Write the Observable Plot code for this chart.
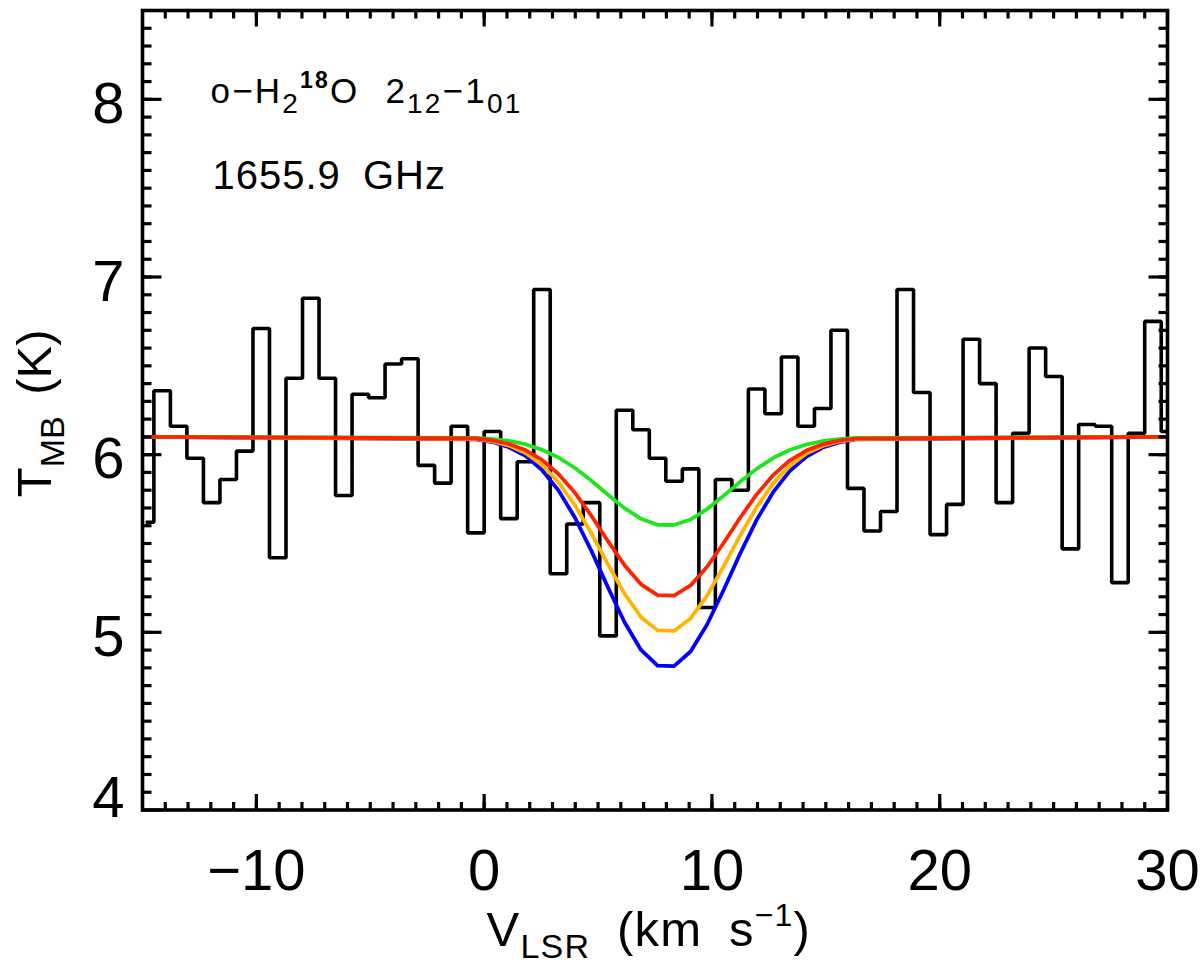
<!DOCTYPE html>
<html>
<head>
<meta charset="utf-8">
<script src="https://cdn.jsdelivr.net/npm/d3@7"></script>
<script src="https://cdn.jsdelivr.net/npm/@observablehq/plot@0.6"></script>
<style>
  html, body { margin: 0; padding: 0; background: #ffffff; }
  #chart svg { display: block; }
</style>
</head>
<body>
<div id="chart"></div>
<script>
// ---- Observed spectrum: channel centres (km/s) and main-beam temperature (K)
const velocity = [
  -14.8625, -14.1375, -13.4125, -12.6875, -11.9625, -11.2375, -10.5125, -9.7875, -9.0625, -8.3375,
  -7.6125, -6.8875, -6.1625, -5.4375, -4.7125, -3.9875, -3.2625, -2.5375, -1.8125, -1.0875,
  -0.3625, 0.3625, 1.0875, 1.8125, 2.5375, 3.2625, 3.9875, 4.7125, 5.4375, 6.1625,
  6.8875, 7.6125, 8.3375, 9.0625, 9.7875, 10.5125, 11.2375, 11.9625, 12.6875, 13.4125,
  14.1375, 14.8625, 15.5875, 16.3125, 17.0375, 17.7625, 18.4875, 19.2125, 19.9375, 20.6625,
  21.3875, 22.1125, 22.8375, 23.5625, 24.2875, 25.0125, 25.7375, 26.4625, 27.1875, 27.9125,
  28.6375, 29.3625, 30.0875
];
const tmb = [
  5.62, 6.36, 6.16, 5.98, 5.73, 5.86, 6.02, 6.71, 5.42, 6.43,
  6.88, 6.43, 5.77, 6.34, 6.32, 6.51, 6.54, 5.94, 5.84, 6.16,
  5.56, 6.13, 5.64, 5.96, 6.93, 5.33, 5.61, 5.73, 4.98, 6.25,
  6.14, 5.98, 5.85, 5.92, 5.14, 5.86, 5.80, 6.37, 6.23, 6.55,
  6.16, 6.26, 6.70, 5.81, 5.57, 5.68, 6.93, 6.35, 5.55, 5.72,
  6.65, 6.40, 5.73, 6.12, 6.60, 6.44, 5.47, 6.17, 6.16, 5.28,
  6.12, 6.75, 6.13
];

// ---- Model profiles (at the channel centres)
const modelVelocity = [
  -14.8625, -0.3625, 0.3625, 1.0875, 1.8125, 2.5375, 3.2625, 3.9875, 4.7125, 5.4375,
  6.1625, 6.8875, 7.6125, 8.3375, 9.0625, 9.7875, 10.5125, 11.2375, 11.9625, 12.6875,
  13.4125, 14.1375, 14.8625, 15.5875, 16.3125, 30.0875
];
const modelBlue = [
  6.1, 6.086, 6.071, 6.042, 5.993, 5.914, 5.799, 5.645, 5.457, 5.252,
  5.057, 4.901, 4.813, 4.810, 4.892, 5.044, 5.238, 5.443, 5.633, 5.789,
  5.907, 5.988, 6.040, 6.069, 6.086, 6.1
];
const modelOrange = [
  6.1, 6.088, 6.075, 6.051, 6.009, 5.943, 5.845, 5.715, 5.556, 5.383,
  5.217, 5.085, 5.011, 5.008, 5.078, 5.207, 5.371, 5.544, 5.705, 5.837,
  5.937, 6.006, 6.049, 6.074, 6.088, 6.1
];
const modelGreen = [
  6.1, 6.095, 6.089, 6.078, 6.059, 6.028, 5.984, 5.925, 5.853, 5.774,
  5.699, 5.639, 5.605, 5.604, 5.635, 5.694, 5.769, 5.847, 5.920, 5.981,
  6.026, 6.057, 6.077, 6.088, 6.094, 6.1
];
const modelRed = [
  6.1, 6.091, 6.080, 6.060, 6.026, 5.971, 5.891, 5.785, 5.655, 5.513,
  5.378, 5.270, 5.209, 5.207, 5.264, 5.369, 5.503, 5.645, 5.776, 5.885,
  5.967, 6.023, 6.058, 6.079, 6.090, 6.1
];

// ---- Axes
const xDomain = [-15, 30];
const yDomain = [4, 8.5];
const xMajorTicks = [-10, 0, 10, 20, 30];
const xTickLabels = ["\u221210", "0", "10", "20", "30"];
const xMinorTicks = [-14, -13, -12, -11, -10, -9, -8, -7, -6, -5, -4, -3, -2, -1, 0,
  1, 2, 3, 4, 5, 6, 7, 8, 9, 10, 11, 12, 13, 14, 15, 16, 17, 18, 19, 20,
  21, 22, 23, 24, 25, 26, 27, 28, 29];
const yMajorTicks = [4, 5, 6, 7, 8];
const yTickLabels = ["4", "5", "6", "7", "8"];
const yMinorTicks = [4.1, 4.2, 4.3, 4.4, 4.5, 4.6, 4.7, 4.8, 4.9, 5.0,
  5.1, 5.2, 5.3, 5.4, 5.5, 5.6, 5.7, 5.8, 5.9, 6.0,
  6.1, 6.2, 6.3, 6.4, 6.5, 6.6, 6.7, 6.8, 6.9, 7.0,
  7.1, 7.2, 7.3, 7.4, 7.5, 7.6, 7.7, 7.8, 7.9, 8.0,
  8.1, 8.2, 8.3, 8.4];

// ---- Rich texts
const xLabelParts = [["V", "n"], ["LSR", "sub"], [" (km s", "n"], ["\u22121", "sup"], [")", "n"]];
const yLabelParts = [["T", "n"], ["MB", "sub"], [" (K)", "n"]];
const lineParts = [["o\u2212H", "n"], ["2", "sub"], ["18", "sup"], ["O 2", "n"], ["12", "sub"], ["\u22121", "n"], ["01", "sub"]];
const freqText = "1655.9 GHz";

const joinParts = (p) => p.map((d) => d[0]).join("");

const spectrum = velocity.map((v, i) => ({v, t: tmb[i]}));
const models = [
  {name: "blue", color: "#0000ff", values: modelBlue},
  {name: "orange", color: "#ffb400", values: modelOrange},
  {name: "green", color: "#1ee61e", values: modelGreen},
  {name: "red", color: "#ff2400", values: modelRed}
];

const tickShape = {
  draw(context, length) {
    context.moveTo(0, 0);
    context.lineTo(0, -length);
  }
};

const FONT = "Liberation Sans, Arial, sans-serif";
const tickStyle = {anchor: "start", shape: tickShape, stroke: "black", strokeWidth: 3.2, strokeLinecap: "butt"};

const marks = [
  Plot.line(spectrum, {x: "v", y: "t", curve: "step", stroke: "black", strokeWidth: 3.6,
    strokeLinejoin: "miter", strokeLinecap: "butt", clip: true}),
  ...models.map((m) => Plot.line(m.values.map((t, i) => ({v: modelVelocity[i], t})),
    {x: "v", y: "t", stroke: m.color, strokeWidth: 3.8, clip: true})),
  Plot.frame({stroke: "black", strokeWidth: 3.6}),
  // ticks (inward on all four sides)
  Plot.vector(xMinorTicks, {x: (d) => d, y: () => yDomain[0], length: 8, rotate: 0, ...tickStyle}),
  Plot.vector(xMajorTicks, {x: (d) => d, y: () => yDomain[0], length: 16, rotate: 0, ...tickStyle}),
  Plot.vector(xMinorTicks, {x: (d) => d, y: () => yDomain[1], length: 8, rotate: 180, ...tickStyle}),
  Plot.vector(xMajorTicks, {x: (d) => d, y: () => yDomain[1], length: 16, rotate: 180, ...tickStyle}),
  Plot.vector(yMinorTicks, {x: () => xDomain[0], y: (d) => d, length: 9, rotate: 90, ...tickStyle}),
  Plot.vector(yMajorTicks, {x: () => xDomain[0], y: (d) => d, length: 19, rotate: 90, ...tickStyle}),
  Plot.vector(yMinorTicks, {x: () => xDomain[1], y: (d) => d, length: 9, rotate: -90, ...tickStyle}),
  Plot.vector(yMajorTicks, {x: () => xDomain[1], y: (d) => d, length: 19, rotate: -90, ...tickStyle}),
  // tick labels
  Plot.text(xMajorTicks, {x: (d) => d, y: () => yDomain[0], text: (d, i) => xTickLabels[i],
    lineAnchor: "top", dy: 38.5, fontSize: 58, fontFamily: FONT, fill: "black"}),
  Plot.text(yMajorTicks.slice(1), {x: () => xDomain[0], y: (d) => d, text: (d, i) => yTickLabels[i + 1],
    textAnchor: "end", lineAnchor: "middle", dx: -18, dy: 5, fontSize: 58, fontFamily: FONT, fill: "black"}),
  Plot.text(yMajorTicks.slice(0, 1), {x: () => xDomain[0], y: (d) => d, text: () => yTickLabels[0],
    textAnchor: "end", lineAnchor: "middle", dx: -18, dy: -12, fontSize: 58, fontFamily: FONT, fill: "black"}),
  // axis titles
  Plot.text([joinParts(xLabelParts)], {frameAnchor: "bottom-left", textAnchor: "start", lineAnchor: "bottom",
    dx: 344, dy: 136, fontSize: 49, fontFamily: FONT, fill: "black"}),
  Plot.text([joinParts(yLabelParts)], {frameAnchor: "left", textAnchor: "start", lineAnchor: "bottom",
    rotate: -90, dx: -92, dy: 87, fontSize: 49, fontFamily: FONT, fill: "black"}),
  // annotations
  Plot.text([joinParts(lineParts)], {frameAnchor: "top-left", textAnchor: "start", lineAnchor: "bottom",
    dx: 68, dy: 92, fontSize: 35, fontFamily: FONT, fill: "black"}),
  Plot.text([freqText], {frameAnchor: "top-left", textAnchor: "start", lineAnchor: "bottom",
    dx: 70, dy: 178.5, fontSize: 40, fontFamily: FONT, fill: "black"})
];

const svg = Plot.plot({
  width: 1200,
  height: 967,
  marginLeft: 142,
  marginRight: 33,
  marginTop: 10,
  marginBottom: 157.5,
  x: {domain: xDomain, axis: null},
  y: {domain: yDomain, axis: null},
  style: {background: "white", fontFamily: FONT, color: "black", overflow: "visible"},
  marks
});

function setRich(root, parts, opts) {
  const key = joinParts(parts);
  const el = Array.from(root.querySelectorAll("text")).find((t) => t.textContent === key);
  if (!el) return;
  el.textContent = "";
  if (opts.wordSpacing) el.style.wordSpacing = opts.wordSpacing + "px";
  if (opts.letterSpacing) el.style.letterSpacing = opts.letterSpacing + "px";
  let shift = 0;
  for (const [s, kind] of parts) {
    const ts = document.createElementNS("http://www.w3.org/2000/svg", "tspan");
    let target = 0;
    if (kind === "sub") { target = opts.subShift; ts.setAttribute("font-size", opts.subSize); }
    else if (kind === "sup") {
      target = -opts.supShift; ts.setAttribute("font-size", opts.supSize);
      if (opts.supWeight) ts.setAttribute("font-weight", opts.supWeight);
    }
    if (target !== shift) ts.setAttribute("dy", target - shift);
    shift = target;
    ts.textContent = s;
    el.appendChild(ts);
  }
}

setRich(svg, xLabelParts, {subShift: 12, subSize: 34, supShift: 20, supSize: 32, wordSpacing: 12, letterSpacing: 1.2});
setRich(svg, yLabelParts, {subShift: 13, subSize: 34, wordSpacing: 8});
setRich(svg, lineParts, {subShift: 10, subSize: 28, supShift: 15, supSize: 23, supWeight: "bold", wordSpacing: 14, letterSpacing: 2.2});
const ft = Array.from(svg.querySelectorAll("text")).find((t) => t.textContent === freqText);
if (ft) { ft.style.wordSpacing = "10px"; ft.style.letterSpacing = "1px"; }

document.getElementById("chart").appendChild(svg);
</script>
</body>
</html>
